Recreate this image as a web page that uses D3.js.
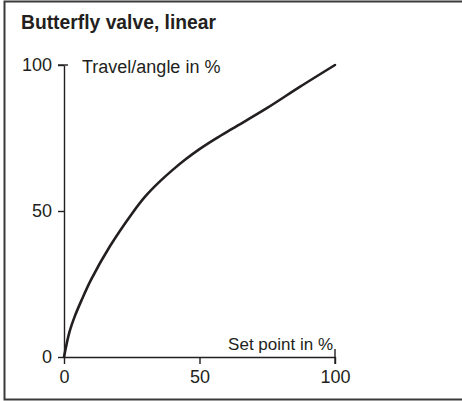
<!DOCTYPE html>
<html>
<head>
<meta charset="utf-8">
<script src="https://cdn.jsdelivr.net/npm/d3@7/dist/d3.min.js"></script>
<style>
  html, body { margin: 0; padding: 0; background: #fff; }
  svg { display: block; }
  text { font-family: "Liberation Sans", Arial, sans-serif; fill: #231f20; }
</style>
</head>
<body>
<svg id="chart" width="462" height="401"></svg>
<script>
// Characteristic: set point (x) vs. travel/angle (y), both in %
const setPoint = [0, 2, 4, 6.5, 10, 17, 25, 30, 35, 40, 45, 50, 56, 62.5, 75, 87, 100];
const travel   = [0, 8.5, 14, 19.5, 26.5, 38, 49, 55, 59.8, 64, 67.8, 71.2, 74.8, 78.4, 85.3, 92.5, 100];
const xTicks = [0, 50, 100];
const yTicks = [0, 50, 100];
const title = "Butterfly valve, linear";
const xLabel = "Set point in %";
const yLabel = "Travel/angle in %";

const svg = d3.select("#chart");
const ink = "#231f20";

// frame
svg.append("rect")
  .attr("x", 4.5).attr("y", 1.5)
  .attr("width", 480).attr("height", 398)
  .attr("fill", "none").attr("stroke", "#3a3a3a").attr("stroke-width", 2);

svg.append("text")
  .attr("x", 21).attr("y", 28.5)
  .attr("font-size", 19.3).attr("font-weight", "bold")
  .text(title);

const x = d3.scaleLinear().domain([0, 100]).range([64, 335]);
const y = d3.scaleLinear().domain([0, 100]).range([357, 65]);

// x axis
const gx = svg.append("g").attr("transform", `translate(0,${y(0)})`)
  .call(d3.axisBottom(x).tickValues(xTicks).tickSize(7).tickPadding(6).tickSizeOuter(0));
// y axis
const gy = svg.append("g").attr("transform", `translate(${x(0)},0)`)
  .call(d3.axisLeft(y).tickValues(yTicks).tickSize(6).tickPadding(6).tickSizeOuter(0));

[gx, gy].forEach(g => {
  g.select(".domain").attr("stroke", ink).attr("stroke-width", 1.4);
  g.selectAll(".tick line").attr("stroke", ink).attr("stroke-width", 1.4);
  g.selectAll(".tick text").attr("font-size", 18).attr("font-family", "Liberation Sans, Arial, sans-serif").attr("fill", ink);
});

// end terminals of the axes extend to both sides
svg.append("line")
  .attr("x1", x(100)).attr("x2", x(100))
  .attr("y1", y(0) - 8).attr("y2", y(0) + 7)
  .attr("stroke", ink).attr("stroke-width", 1.4);
svg.append("line")
  .attr("x1", x(0) - 6).attr("x2", x(0) + 4)
  .attr("y1", y(100)).attr("y2", y(100))
  .attr("stroke", ink).attr("stroke-width", 1.4);

svg.append("text")
  .attr("x", x(0) + 18).attr("y", y(100) + 8)
  .attr("font-size", 18)
  .text(yLabel);

svg.append("text")
  .attr("x", x(100) - 2).attr("y", y(0) - 7)
  .attr("text-anchor", "end")
  .attr("font-size", 17)
  .text(xLabel);

const pts = setPoint.map((v, i) => [v, travel[i]]);
svg.append("path")
  .datum(pts)
  .attr("fill", "none")
  .attr("stroke", ink)
  .attr("stroke-width", 2.6)
  .attr("stroke-linecap", "round")
  .attr("d", d3.line().x(d => x(d[0])).y(d => y(d[1])).curve(d3.curveCatmullRom.alpha(0.5)));
</script>
</body>
</html>
